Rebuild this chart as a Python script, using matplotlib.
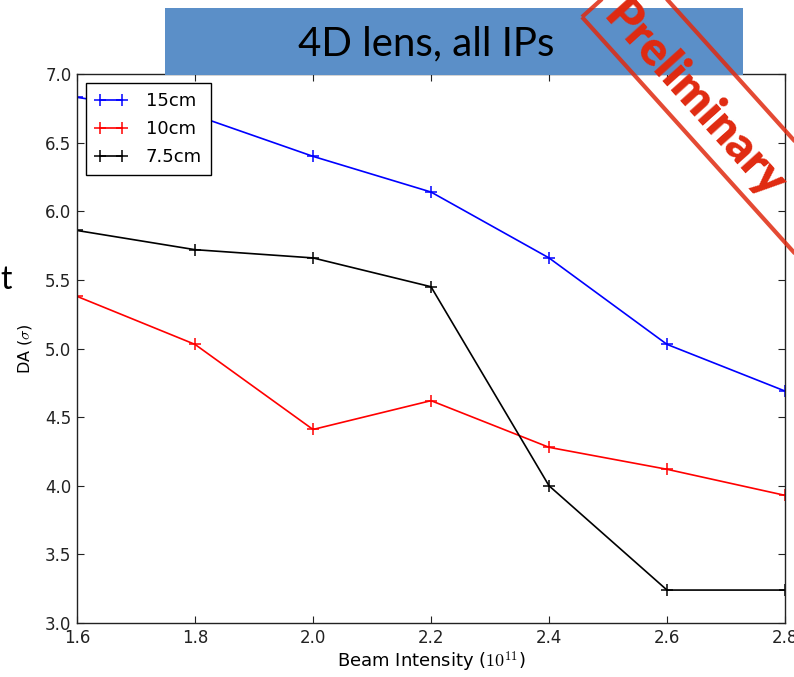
import matplotlib
matplotlib.use("Agg")
import matplotlib.pyplot as plt
from matplotlib.patches import Rectangle, Polygon
import numpy as np

# Data
intensity = [1.6, 1.8, 2.0, 2.2, 2.4, 2.6, 2.8]
da_15cm = [6.83, 6.70, 6.40, 6.14, 5.66, 5.03, 4.69]
da_10cm = [5.38, 5.03, 4.41, 4.62, 4.28, 4.12, 3.93]
da_7p5cm = [5.86, 5.72, 5.66, 5.45, 4.00, 3.24, 3.24]
labels = ["15cm", "10cm", "7.5cm"]
colors = ["blue", "red", "black"]
xticks = [1.6, 1.8, 2.0, 2.2, 2.4, 2.6, 2.8]
yticks = [3.0, 3.5, 4.0, 4.5, 5.0, 5.5, 6.0, 6.5, 7.0]

plt.rcParams["mathtext.fontset"] = "cm"

W, H = 794, 677
fig = plt.figure(figsize=(W / 100, H / 100), dpi=100)
fig.patch.set_facecolor("white")

# Title banner
fig.patches.append(Rectangle((165 / W, 1 - 75 / H), 578 / W, 67 / H,
                             transform=fig.transFigure, facecolor="#5b8fc8",
                             edgecolor="none", zorder=0))
fig.text(426 / W, 1 - 44 / H, "4D lens, all IPs", ha="center", va="center",
         fontsize=29, family="Lato", color="black", zorder=1)
fig.text(0 / W, 1 - 280 / H, "t", ha="left", va="center", fontsize=23,
         family="Lato", color="black")

ax = fig.add_axes([77 / W, 1 - 623 / H, 708 / W, 549 / H])
series = [da_15cm, da_10cm, da_7p5cm]
for s, lab, c in zip(series, labels, colors):
    ax.plot(intensity, s, color=c, lw=1.2, marker="+", markersize=8,
            markeredgewidth=1.1, label=lab)

ax.set_xlim(1.6, 2.8)
ax.set_ylim(3.0, 7.0)
ax.set_xticks(xticks)
ax.set_yticks(yticks)
ax.set_xticklabels([f"{v:.1f}" for v in xticks])
ax.set_yticklabels([f"{v:.1f}" for v in yticks])
ax.tick_params(direction="in", top=True, right=True, length=5, width=0.8,
               labelsize=12, pad=4, colors="#222222")
for sp in ax.spines.values():
    sp.set_linewidth(1.0)
    sp.set_color("#222222")
ax.set_xlabel(r"Beam Intensity ($10^{11}$)", fontsize=13, labelpad=2)
ax.set_ylabel(r"DA ($\sigma$)", fontsize=11.5, labelpad=8)

leg = ax.legend(loc="upper left", numpoints=2, fancybox=False, fontsize=13,
                handlelength=1.8, handletextpad=1.0, borderpad=0.5,
                labelspacing=0.55, borderaxespad=0.5, framealpha=1)
leg.get_frame().set_edgecolor("black")
leg.get_frame().set_linewidth(1.0)

# Preliminary stamp
ang = np.deg2rad(48)
u = np.array([np.cos(ang), np.sin(ang)])      # screen coords, y down
v = np.array([np.sin(ang), -np.cos(ang)])
A = np.array([582.0, 17.0])
L, Wd = 450.0, 75.0
corners = [A, A + L * u, A + L * u + Wd * v, A + Wd * v]
pts = [(p[0] / W, 1 - p[1] / H) for p in corners]
fig.patches.append(Polygon(pts, closed=True, transform=fig.transFigure,
                           facecolor="none", edgecolor="#e02a10", lw=3,
                           alpha=0.85, zorder=10))
fig.text(694 / W, 1 - 100 / H, "Preliminary", rotation=-48, ha="center",
         va="center", fontsize=34, fontweight="heavy", color="#e02a10",
         family="Lato", rotation_mode="anchor", zorder=11)

fig.savefig("out.png", dpi=100)
